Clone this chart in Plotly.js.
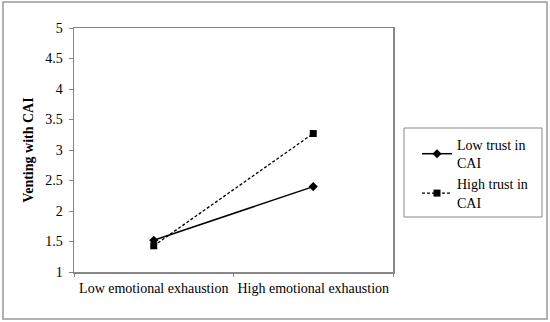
<!DOCTYPE html>
<html>
<head>
<meta charset="utf-8">
<script src="https://cdn.plot.ly/plotly-3.0.1.min.js"></script>
<style>body{margin:0;padding:0;background:#fff}#chart{width:550px;height:322px}</style>
</head>
<body>
<div id="chart"></div>
<script>
const categories = ["Low emotional exhaustion", "High emotional exhaustion"];
const lowTrust = [1.52, 2.40];
const highTrust = [1.43, 3.27];
const seriesNames = ["Low trust in<br>CAI", "High trust in<br>CAI"];
const yTicks = [1, 1.5, 2, 2.5, 3, 3.5, 4, 4.5, 5];
const yTickText = ["1", "1.5", "2", "2.5", "3", "3.5", "4", "4.5", "5"];

const W = 550, H = 322, L = 74, R = 157, T = 28, B = 50;
const pw = W - L - R, ph = H - T - B;
const px = v => (v - L) / pw;
const py = v => (H - B - v) / ph;

const font = {family: "Liberation Serif", size: 14, color: "#000"};

const traces = [
  {x: categories, y: lowTrust, name: seriesNames[0], type: "scatter", mode: "lines+markers",
   line: {color: "#000", width: 1.5}, marker: {symbol: "diamond", size: 7, color: "#000"}},
  {x: categories, y: highTrust, name: seriesNames[1], type: "scatter", mode: "lines+markers",
   line: {color: "#000", width: 1.3, dash: "3px,2px"}, marker: {symbol: "square", size: 7, color: "#000"}}
];

const layout = {
  width: W, height: H,
  margin: {l: L, r: R, t: T, b: B},
  paper_bgcolor: "#fff", plot_bgcolor: "#fff",
  font: font,
  showlegend: true,
  legend: {x: px(417), y: py(129), xanchor: "left", yanchor: "top",
    borderwidth: 0, bgcolor: "rgba(0,0,0,0)", font: font, tracegroupgap: 8,
    itemwidth: 30},
  xaxis: {type: "category", range: [-0.5, 1.5], showline: true, mirror: true, linecolor: "#888", linewidth: 1.5,
    showgrid: false, zeroline: false, ticks: "outside", tickson: "boundaries", ticklen: 3, tickcolor: "#888",
    tickfont: font, tickangle: 0, ticklabelstandoff: 3, fixedrange: true},
  yaxis: {range: [1, 5], tickvals: yTicks, ticktext: yTickText, showline: true, mirror: true, linecolor: "#888", linewidth: 1.5,
    showgrid: false, zeroline: false, ticks: "outside", ticklen: 4, tickcolor: "#888", tickfont: font,
    ticklabelstandoff: 3,
    title: {text: "<b>Venting with CAI</b>", font: font, standoff: 8}, automargin: false, fixedrange: true},
  shapes: [
    {type: "rect", xref: "paper", yref: "paper", x0: px(3), x1: px(547), y0: py(319), y1: py(2),
     line: {color: "#999", width: 1.5}, fillcolor: "rgba(0,0,0,0)", layer: "below"},
    {type: "rect", xref: "paper", yref: "paper", x0: px(404), x1: px(542), y0: py(217), y1: py(128),
     line: {color: "#888", width: 1}, fillcolor: "rgba(0,0,0,0)", layer: "below"}
  ]
};

Plotly.newPlot("chart", traces, layout, {displayModeBar: false, staticPlot: true});
</script>
</body>
</html>
